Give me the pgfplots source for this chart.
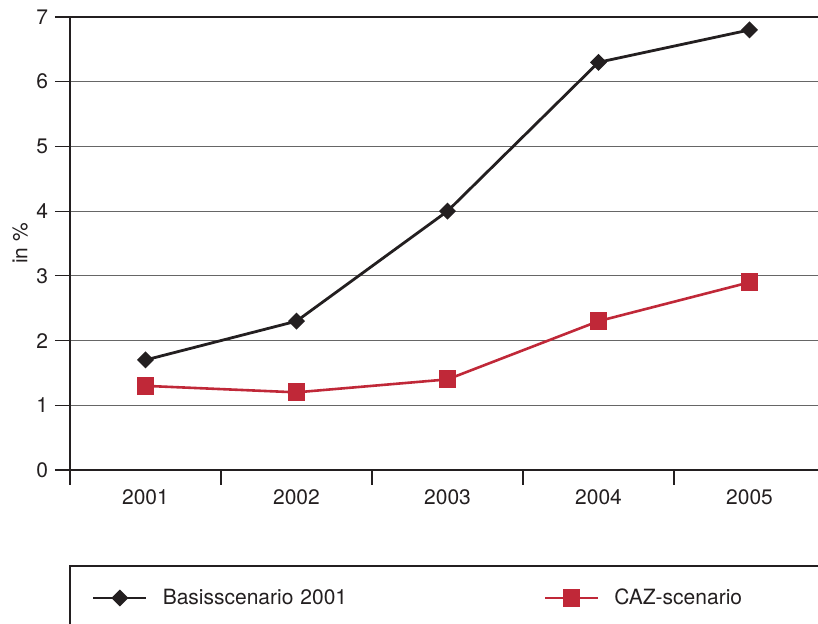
\documentclass[border=0pt]{standalone}
\usepackage{pgfplots}
\pgfplotsset{compat=1.18}
\usepackage{fontspec}
\setmainfont{TeX Gyre Heros}
\definecolor{ink}{RGB}{35,31,32}
\definecolor{cazred}{RGB}{192,40,56}
\begin{document}
\begin{tikzpicture}[font=\fontsize{10.5}{12.5}\selectfont, text=ink]
\begin{axis}[
  at={(35pt,77pt)}, anchor=south west,
  scale only axis, width=377.5pt, height=226.5pt,
  xmin=-0.5, xmax=4.5, ymin=0, ymax=7,
  clip=false,
  /pgf/number format/assume math mode=true,
  ytick={0,1,2,3,4,5,6,7},
  xtick={-0.5,0.5,1.5,2.5,3.5,4.5}, xticklabels={},
  extra x ticks={0,1,2,3,4},
  extra x tick labels={2001,2002,2003,2004,2005},
  extra x tick style={major tick length=0pt, grid=none},
  tick align=outside, major tick length=7.5pt,
  xtick pos=bottom, ytick pos=left,
  ymajorgrids, grid style={line width=0.6pt, black!60},
  axis line style={line width=1.3pt, ink},
  tick style={line width=0.6pt, ink},
  xticklabel style={yshift=-6.5pt},
  ylabel={in \%},
  ylabel style={at={(axis description cs:-0.0662,0.5)}, anchor=center},
  legend columns=2,
  legend cell align=left,
  legend style={at={(axis description cs:0.0291,-0.2826)}, anchor=west,
    draw=none, fill=none, inner sep=0pt, outer sep=0pt,
    nodes={inner xsep=0pt, text width=190.5pt, align=left},
    /tikz/every odd column/.append style={column sep=7.5pt}},
  legend image code/.code={\draw[mark repeat=2,mark phase=2,#1] plot coordinates {(0pt,0pt) (13.25pt,0pt) (26.5pt,0pt)};},
]
\addplot[ink, line width=1.4pt, mark=square*, mark size=2.3pt, mark options={rotate=45, solid}]
  coordinates {(0,1.7) (1,2.3) (2,4.0) (3,6.3) (4,6.8)};
\addlegendentry{Basisscenario 2001}
\addplot[cazred, line width=1.3pt, mark=square*, mark size=3.8pt, mark options={solid}]
  coordinates {(0,1.3) (1,1.2) (2,1.4) (3,2.3) (4,2.9)};
\addlegendentry{CAZ-scenario}
\draw[line width=1.3pt, ink] (axis description cs:0,-0.45) -- (axis description cs:0,-0.2119) -- (axis description cs:1.2,-0.2119);
\end{axis}
\pgfresetboundingbox
\useasboundingbox (0,0) rectangle (409pt,312pt);
\end{tikzpicture}
\end{document}
